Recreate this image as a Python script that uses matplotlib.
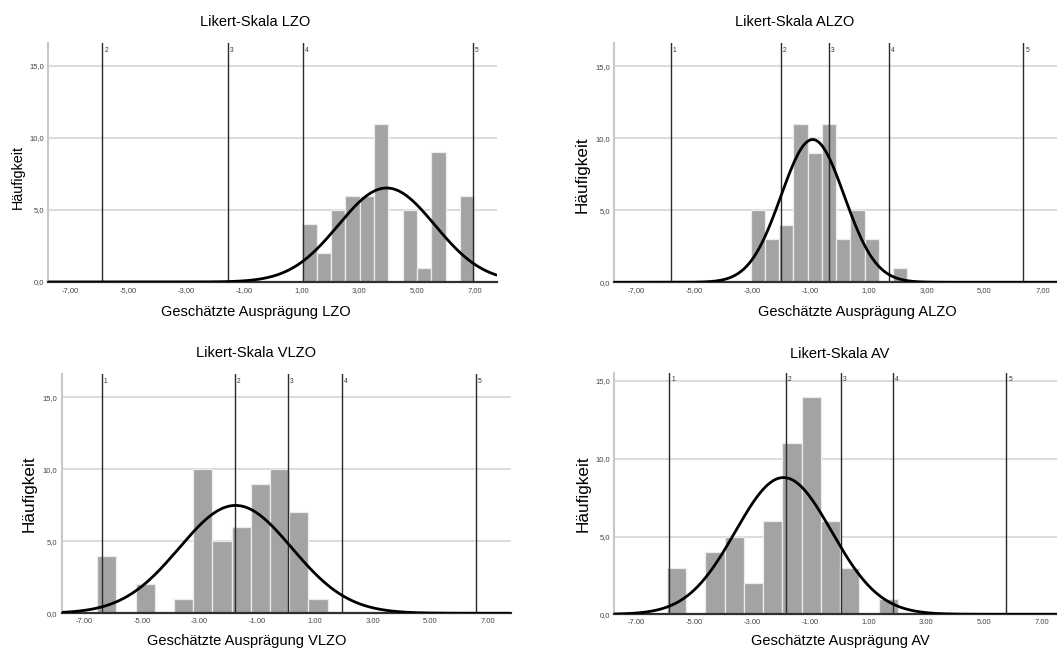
import numpy as np
import matplotlib
matplotlib.use("Agg")
import matplotlib.pyplot as plt

plt.rcParams['font.family'] = ['Liberation Sans', 'DejaVu Sans']

W, H = 1057, 653

# ---------------- data ----------------
titles = ["Likert-Skala LZO", "Likert-Skala ALZO", "Likert-Skala VLZO", "Likert-Skala AV"]
xlabels = ["Geschätzte Ausprägung LZO", "Geschätzte Ausprägung ALZO",
           "Geschätzte Ausprägung VLZO", "Geschätzte Ausprägung AV"]

# histogram bins: first edge, bin width, counts
lzo_start, lzo_width = 1.03, 0.497
lzo_counts = [4, 2, 5, 6, 6, 11, 0, 5, 1, 9, 0, 6]
alzo_start, alzo_width = -3.07, 0.492
alzo_counts = [5, 3, 4, 11, 9, 11, 3, 5, 3, 0, 1]
vlzo_start, vlzo_width = -6.54, 0.665
vlzo_counts = [4, 0, 2, 0, 1, 10, 5, 6, 9, 10, 7, 1]
av_start, av_width = -5.96, 0.665
av_counts = [3, 0, 4, 5, 2, 6, 11, 14, 6, 3, 0, 1]

# fitted normal curve (mean, sd)
lzo_norm = (3.95, 1.67)
alzo_norm = (-0.93, 1.09)
vlzo_norm = (-1.75, 1.95)
av_norm = (-1.93, 1.66)

# Likert category thresholds (vertical reference lines)
lzo_lines = [-5.90, -1.54, 1.06, 6.93]
lzo_line_labels = ["2", "3", "4", "5"]
alzo_lines = [-5.83, -2.03, -0.37, 1.71, 6.34]
alzo_line_labels = ["1", "2", "3", "4", "5"]
vlzo_lines = [-6.38, -1.78, 0.07, 1.94, 6.58]
vlzo_line_labels = ["1", "2", "3", "4", "5"]
av_lines = [-5.87, -1.84, 0.04, 1.85, 5.76]
av_line_labels = ["1", "2", "3", "4", "5"]

x_ticks = [-7, -5, -3, -1, 1, 3, 5, 7]
y_ticks = [0, 5, 10, 15]
x_decimal = [",", ",", ".", "."]

panels = [
    (lzo_start, lzo_width, lzo_counts, lzo_norm, lzo_lines, lzo_line_labels),
    (alzo_start, alzo_width, alzo_counts, alzo_norm, alzo_lines, alzo_line_labels),
    (vlzo_start, vlzo_width, vlzo_counts, vlzo_norm, vlzo_lines, vlzo_line_labels),
    (av_start, av_width, av_counts, av_norm, av_lines, av_line_labels),
]

# ---------------- layout (pixels) ----------------
# left, width, top, bottom
boxes = [(48.2, 448.9, 43.0, 282.0),
         (614.1, 451.0, 43.0, 282.3),
         (61.5, 449.0, 374.0, 613.3),
         (614.1, 450.6, 372.7, 614.3)]
ymaxs = [16.6, 16.6, 16.6, 15.53]
xlim = (-7.78, 7.78)
title_pos = [(255, 22), (795, 22), (256, 353), (840, 354)]
xlabel_pos = [(256, 312), (857, 312), (247, 641), (840, 641)]
ylabel_pos = [(17.5, 177, 10.4), (582, 175, 12.3), (29, 494, 12.3), (583, 494, 12.3)]

fig = plt.figure(figsize=(W / 100, H / 100), dpi=100)

for i, (start, width, counts, (mu, sd), lines, llabels) in enumerate(panels):
    l, w, t, b = boxes[i]
    ax = fig.add_axes([l / W, (H - b) / H, w / W, (b - t) / H])
    ymax = ymaxs[i]
    ax.set_xlim(*xlim)
    ax.set_ylim(0, ymax)

    # grid
    for yt in y_ticks[1:]:
        ax.axhline(yt, color='#d9d9d9', lw=1.3, zorder=0)

    # bars
    counts = np.array(counts, dtype=float)
    edges = start + width * np.arange(len(counts))
    mask = counts > 0
    ax.bar(edges[mask], counts[mask], width=width, align='edge',
           color='#a3a3a3', edgecolor='#ececec', linewidth=0.9, zorder=2)

    # reference lines
    for xv, lab in zip(lines, llabels):
        ax.axvline(xv, color='#2a2a2a', lw=1.0, zorder=3)
        ax.text(xv + 0.07, ymax * 0.985, lab, fontsize=4.8, color='#333333',
                ha='left', va='top', zorder=3)

    # normal curve
    xs = np.linspace(xlim[0], xlim[1], 500)
    n = counts.sum()
    ys = n * width / (sd * np.sqrt(2 * np.pi)) * np.exp(-0.5 * ((xs - mu) / sd) ** 2)
    ax.plot(xs, ys, color='black', lw=2.0, zorder=4, solid_capstyle='butt')

    # spines
    for s in ['top', 'right']:
        ax.spines[s].set_visible(False)
    ax.spines['left'].set_color('#c8c8c8')
    ax.spines['left'].set_linewidth(1.5)
    ax.spines['bottom'].set_color('#303030')
    ax.spines['bottom'].set_linewidth(1.6)
    ax.spines['bottom'].set_zorder(3.5)

    ax.set_xticks(x_ticks)
    sep = x_decimal[i]
    ax.set_xticklabels([f"{v:.2f}".replace(".", sep) for v in x_ticks])
    ax.set_yticks(y_ticks)
    ax.set_yticklabels([f"{v:.1f}".replace(".", ",") for v in y_ticks])
    ax.tick_params(axis='both', length=0, labelsize=5.5, colors='#444444')
    ax.tick_params(axis='x', pad=3.5)
    ax.tick_params(axis='y', pad=3)

    # texts
    tx, ty = title_pos[i]
    fig.text(tx / W, 1 - ty / H, titles[i], ha='center', va='center', fontsize=10.5)
    lx, ly = xlabel_pos[i]
    fig.text(lx / W, 1 - ly / H, xlabels[i], ha='center', va='center', fontsize=10.5)
    yx, yy, yfs = ylabel_pos[i]
    fig.text(yx / W, 1 - yy / H, "Häufigkeit", ha='center', va='center',
             rotation=90, fontsize=yfs)

fig.savefig("out.png", dpi=100)
